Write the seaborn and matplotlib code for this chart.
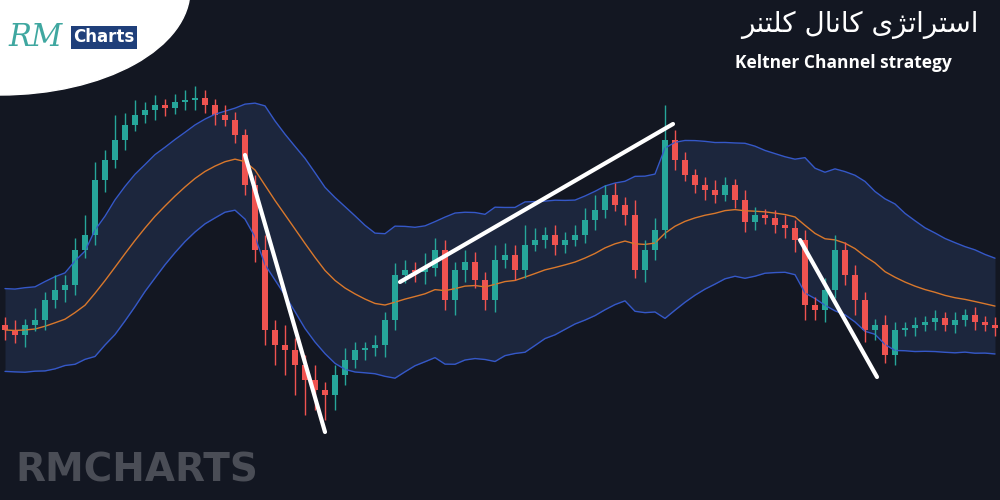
import matplotlib
matplotlib.use("Agg")
import matplotlib.pyplot as plt
import seaborn as sns
import numpy as np
import pandas as pd
from matplotlib.patches import Ellipse, Rectangle

closes = [330,335,325,320,300,290,285,250,235,180,160,140,125,115,110,105,108,102,100,98,
          105,115,120,135,185,250,330,345,350,365,380,390,395,375,360,350,348,345,320,275,
          270,272,268,250,300,270,262,280,300,260,255,270,245,240,235,245,240,235,220,210,
          195,205,215,270,250,230,140,160,175,185,190,195,185,200,222,215,218,225,228,240,
          305,310,290,250,275,300,330,325,355,330,328,325,322,318,325,320,315,322,325,328]
wick_up = [8,10,6,12,8,15,10,12,20,18,10,25,12,15,8,10,6,8,10,12,
           8,6,10,8,6,10,15,10,20,12,10,15,8,10,12,8,6,10,8,12,
           10,8,15,12,10,8,12,10,8,15,12,10,20,12,8,10,8,10,12,15,
           10,12,8,15,10,12,35,10,8,6,8,10,8,6,10,8,6,8,10,8,
           10,8,12,15,8,10,8,6,10,8,6,8,6,8,6,8,6,8,6,8]
wick_dn = [10,8,12,6,10,8,12,10,8,10,12,8,10,6,8,10,8,6,8,10,
           8,10,6,8,10,12,15,20,25,30,35,20,25,15,10,8,10,8,12,10,
           8,10,12,8,10,15,12,8,10,12,8,10,8,6,8,10,8,6,8,10,
           8,6,10,8,12,10,8,10,6,8,10,8,6,8,10,8,6,8,10,12,
           15,10,12,8,10,15,12,10,8,10,6,8,6,8,6,8,6,8,6,8]
trend_x = [[24.0, 32.0], [39.5, 66.8], [79.5, 87.2]]
trend_y = [[345, 68], [218, 376], [260, 123]]

bg = "#131722"
sns.set_theme(style="dark")
fig = plt.figure(figsize=(10, 5), dpi=100, facecolor=bg)
ax = fig.add_axes([0, 0, 1, 1])
ax.set_facecolor(bg)

price = [500 - c for c in closes]
opens = [price[0] + 5] + price[:-1]
n = len(price)
idx = np.arange(n)
s = pd.Series(price, dtype=float)
mid = s.ewm(span=20, adjust=False).mean()
hi = np.maximum(opens, price) + np.array(wick_up)
lo = np.minimum(opens, price) - np.array(wick_dn)
tr = pd.Series(hi - lo).ewm(span=20, adjust=False).mean()
up = mid + 1.8 * tr
dn = mid - 1.8 * tr

ax.fill_between(idx, dn, up, color="#1f2b44", alpha=0.8, lw=0)
sns.lineplot(x=idx, y=up, ax=ax, color="#3558c8", lw=1)
sns.lineplot(x=idx, y=dn, ax=ax, color="#3558c8", lw=1)
sns.lineplot(x=idx, y=mid, ax=ax, color="#d9782c", lw=1)

for i in range(n):
    o, c = opens[i], price[i]
    col = "#26a69a" if c >= o else "#ef5350"
    ax.vlines(i, lo[i], hi[i], color=col, lw=1)
    ax.add_patch(Rectangle((i - 0.3, min(o, c)), 0.6, max(abs(c - o), 1.5), color=col, lw=0))

for tx, ty in zip(trend_x, trend_y):
    ax.plot(tx, ty, color="white", lw=3, solid_capstyle="round")

ax.set_xlim(-0.5, n - 0.5)
ax.set_ylim(0, 500)
ax.axis("off")

ax.add_patch(Ellipse((0.0, 1.02), 0.38, 0.42, transform=ax.transAxes, color="white", zorder=5))
fig.text(0.008, 0.925, "RM", fontsize=22, color="#3fa7a0", style="italic", family="DejaVu Serif", zorder=6, va="center")
fig.text(0.073, 0.925, "Charts", fontsize=12, color="white", weight="bold", zorder=7, va="center",
         bbox=dict(boxstyle="square,pad=0.15", fc="#1f3f7a", ec="none"))

fa_word = "\uFEAE\uFEE8\uFE98\uFEE0\uFB90 \uFEDD\uFE8E\uFEE7\uFE8E\uFB90 \uFBFC\uFB8B\uFE97\uFE8D\uFEAE\uFE98\uFEB3\uFE8D"
fig.text(0.86, 0.95, fa_word, fontsize=20, color="white", ha="center", va="center", family=["DejaVu Sans"])
fig.text(0.843, 0.873, "Keltner Channel strategy", fontsize=12.5, color="white", weight="bold",
         ha="center", va="center", family=["Open Sans", "DejaVu Sans"])
fig.text(0.015, 0.06, "RMCHARTS", fontsize=28, color="#4a4d56", weight="bold", va="center")

fig.savefig("out.png", dpi=100, facecolor=bg)
